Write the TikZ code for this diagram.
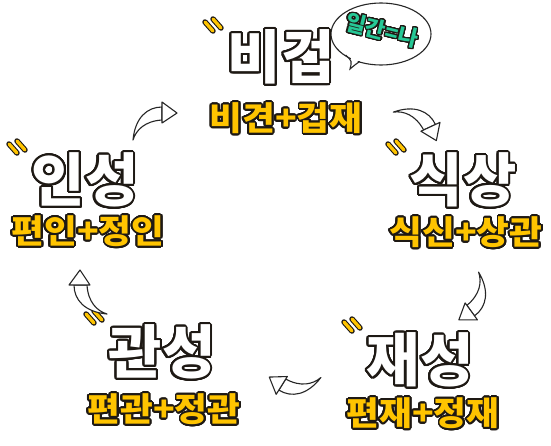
\documentclass[tikz,border=0pt]{standalone}
\usepackage{fontspec}
\usepackage{xcolor}
\usepackage{contour}
\newfontfamily\kr{Noto Sans CJK KR}
\definecolor{tagyellow}{RGB}{255,196,0}
\definecolor{bubbleteal}{RGB}{38,200,150}
\definecolor{inkdark}{RGB}{30,25,20}
\contournumber{32}
\newcommand{\bigword}[1]{{\contourlength{2pt}\contour{inkdark}{\textcolor{white}{#1}}}}
\newcommand{\tagword}[1]{{\contourlength{1.6pt}\contour{inkdark}{\textcolor{tagyellow}{#1}}}}
\newcommand{\tealword}[1]{{\contourlength{1.2pt}\contour{inkdark}{\textcolor{bubbleteal}{#1}}}}
\tikzset{
  bigtext/.style={inner sep=0pt, font=\kr\bfseries\fontsize{58}{62}\selectfont},
  tagtext/.style={inner sep=0pt, xscale=1.08, font=\kr\bfseries\fontsize{33}{36}\selectfont},
  arrowshape/.style={draw=black!85, fill=white, line width=1.1pt, line join=round},
  tickdark/.style={draw=inkdark, line width=5.5pt, line cap=round},
  tickyellow/.style={draw=tagyellow, line width=3.3pt, line cap=round},
}
\newcommand{\cyclearrow}[3]{%
  \begin{scope}[shift={(#1,-#2)}, rotate=#3]
    \draw[arrowshape] (0,6) .. controls (-15,6) and (-27,-5) .. (-29,-27)
       .. controls (-26,-17) and (-17,-8) .. (0,-7) -- cycle;
    \draw[arrowshape] (0,11) -- (15,0) -- (0,-10) -- cycle;
  \end{scope}}
\newcommand{\ticks}[2]{%
  \begin{scope}[shift={(#1,-#2)}]
    \draw[tickdark] (-8,6) -- (0,-3);
    \draw[tickdark] (0,9) -- (8,0);
    \draw[tickyellow] (-8,6) -- (0,-3);
    \draw[tickyellow] (0,9) -- (8,0);
  \end{scope}}
\begin{document}
\begin{tikzpicture}[x=1pt,y=1pt]
\useasboundingbox[fill=white] (0,0) rectangle (551,-445);

% speech bubble
\draw[fill=white, draw=black!85, line width=1.1pt] (381,-34) ellipse [x radius=50, y radius=31];
\fill[white] (347.5,-51) .. controls (352,-58) .. (350,-69) .. controls (356,-63) .. (361,-58) -- (362,-50) -- cycle;
\draw[draw=black!85, line width=1.1pt] (345.6,-55) .. controls (352,-61) .. (350,-69) .. controls (356,-64) .. (359.7,-61.5);
\node[rotate=-14, inner sep=0pt, font=\kr\bfseries\fontsize{22}{25}\selectfont] (ilgan) at (382,-31) {\tealword{일간=나}};

% main words
\node[bigtext] (bigeop) at (281,-58) {\bigword{비겁}};
\node[tagtext] (bigeoptag) at (286,-119) {\tagword{비견+겁재}};

\node[bigtext] (inseong) at (85,-181) {\bigword{인성}};
\node[tagtext] (inseongtag) at (88,-232) {\tagword{편인+정인}};

\node[bigtext] (siksang) at (463,-181) {\bigword{식상}};
\node[tagtext] (siksangtag) at (466,-233) {\tagword{식신+상관}};

\node[bigtext] (gwanseong) at (162,-353) {\bigword{관성}};
\node[tagtext] (gwanseongtag) at (164,-410) {\tagword{편관+정관}};

\node[bigtext] (jaeseong) at (420,-361) {\bigword{재성}};
\node[tagtext] (jaeseongtag) at (423,-414) {\tagword{편재+정재}};

% emphasis ticks
\ticks{213}{28}
\ticks{17}{150}
\ticks{396}{150}
\ticks{94}{320}
\ticks{352}{328}

% cycle arrows
\cyclearrow{162}{113}{0}
\cyclearrow{430}{127}{-65}
\cyclearrow{471}{311}{-144}
\cyclearrow{282}{385}{148}
\cyclearrow{80}{285}{90}
\end{tikzpicture}
\end{document}
